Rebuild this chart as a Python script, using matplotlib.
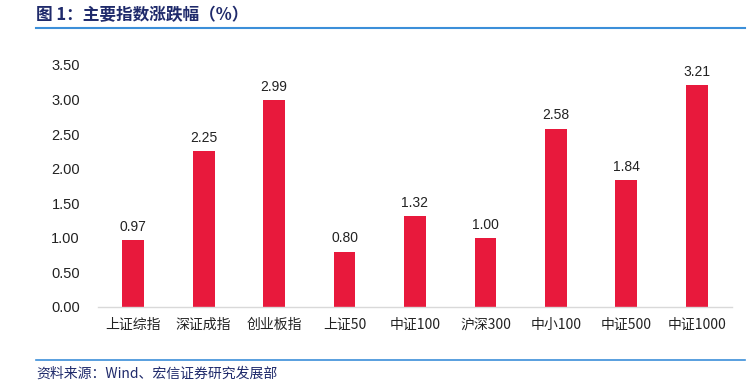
import matplotlib
matplotlib.use("Agg")
import matplotlib.pyplot as plt
from matplotlib.lines import Line2D

plt.rcParams['font.family'] = ['Noto Sans CJK SC', 'DejaVu Sans']

# 数据
categories = ["上证综指", "深证成指", "创业板指", "上证50", "中证100",
              "沪深300", "中小100", "中证500", "中证1000"]
values = [0.97, 2.25, 2.99, 0.80, 1.32, 1.00, 2.58, 1.84, 3.21]
yticks = [0.0, 0.5, 1.0, 1.5, 2.0, 2.5, 3.0, 3.5]

bar_color = "#E8193C"
navy = "#1F2A6B"
blue = "#3C8FD9"

W, H = 747, 388
fig = plt.figure(figsize=(W / 100, H / 100), dpi=100)

# 绘图区
ax = fig.add_axes([98 / W, 1 - 307 / H, (732 - 98) / W, (307 - 65) / H])
x = list(range(len(categories)))
ax.bar(x, values, width=0.31, color=bar_color, zorder=2)
for xi, v in zip(x, values):
    ax.text(xi, v + 0.09, f"{v:.2f}", ha="center", va="bottom",
            fontsize=10, family=["Liberation Sans"], color="#222222")

ax.set_xlim(-0.5, len(categories) - 0.5)
ax.set_ylim(0, 3.5)
ax.set_yticks(yticks)
ax.set_yticklabels([f"{t:.2f}" for t in yticks], family=["Liberation Sans"], fontsize=10.5)
ax.set_xticks(x)
ax.set_xticklabels(categories, fontsize=10)
ax.tick_params(axis="both", length=0, colors="#222222")
ax.tick_params(axis="y", pad=13)
ax.tick_params(axis="x", pad=8)
for s in ["top", "right", "left"]:
    ax.spines[s].set_visible(False)
ax.spines["bottom"].set_color("#D9D9D9")
ax.spines["bottom"].set_linewidth(1)

# 标题与来源
fig.text(36 / W, 1 - 15 / H, "图 1：主要指数涨跌幅（%）", fontsize=12,
         fontweight="bold", color=navy, va="center", ha="left")
fig.add_artist(Line2D([36 / W, 745 / W], [1 - 28 / H, 1 - 28 / H],
                      color=blue, linewidth=1.5, transform=fig.transFigure))
fig.add_artist(Line2D([36 / W, 745 / W], [1 - 360 / H, 1 - 360 / H],
                      color=blue, linewidth=1.2, transform=fig.transFigure))
fig.text(36 / W, 1 - 374 / H, "资料来源：Wind、宏信证券研究发展部", fontsize=10,
         color=navy, va="center", ha="left")

fig.savefig("out.png", dpi=100)
